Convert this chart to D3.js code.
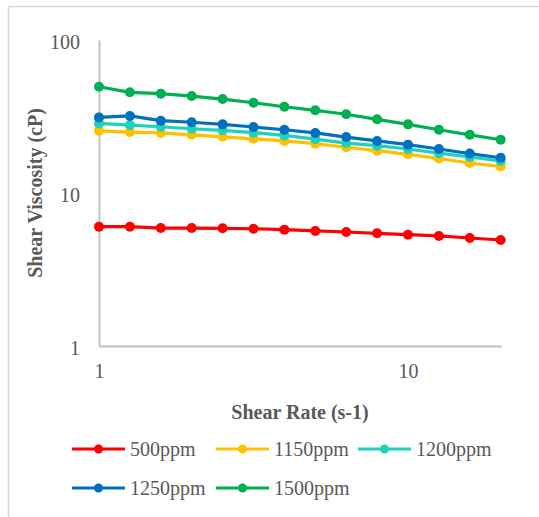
<!DOCTYPE html>
<html>
<head>
<meta charset="utf-8">
<script src="https://cdn.jsdelivr.net/npm/d3@7"></script>
<style>
  html, body { margin: 0; padding: 0; background: #fff; }
  svg { display: block; }
  text { font-family: "Liberation Serif", "Times New Roman", serif; }
</style>
</head>
<body>
<svg id="chart" width="539" height="517"></svg>
<script>
// Shear rate (s-1) at each measurement
const shearRates = [1, 1.259, 1.585, 1.995, 2.512, 3.162, 3.981, 5.012, 6.31, 7.943, 10, 12.59, 15.85, 19.95];

// Shear viscosity (cP) for each polymer concentration
const seriesNames = ["500ppm", "1150ppm", "1200ppm", "1250ppm", "1500ppm"];
const visc500  = [6.02, 6.02, 5.9, 5.9, 5.88, 5.84, 5.76, 5.65, 5.56, 5.45, 5.34, 5.24, 5.08, 4.93];
const visc1150 = [25.5, 25.0, 24.7, 24.0, 23.3, 22.6, 21.9, 21.0, 19.9, 18.9, 17.9, 16.8, 15.7, 14.9];
const visc1200 = [28.5, 27.8, 27.1, 26.3, 25.7, 24.8, 23.8, 22.5, 21.2, 20.4, 19.4, 18.2, 17.2, 16.2];
const visc1250 = [31.2, 31.9, 29.7, 29.0, 28.1, 27.0, 25.9, 24.7, 23.2, 21.9, 20.7, 19.4, 18.1, 17.0];
const visc1500 = [49.5, 45.5, 44.6, 43.0, 41.1, 38.9, 36.6, 34.7, 32.7, 30.3, 28.1, 25.9, 24.0, 22.3];
const seriesColors = ["#FF0000", "#FFC000", "#1FD0BC", "#0070C0", "#00B050"];

const yTicks = [1, 10, 100];
const xTicks = [1, 10];
const xTitle = "Shear Rate (s-1)";
const yTitle = "Shear Viscosity (cP)";

const seriesValues = [visc500, visc1150, visc1200, visc1250, visc1500];
const series = seriesNames.map((name, i) => ({
  name,
  color: seriesColors[i],
  points: shearRates.map((x, j) => ({ x, y: seriesValues[i][j] }))
}));

const svg = d3.select("#chart");

// chart frame
svg.append("line").attr("x1", 8).attr("x2", 539).attr("y1", 6.5).attr("y2", 6.5)
  .attr("stroke", "#D9D9D9").attr("stroke-width", 1.5);
svg.append("line").attr("x1", 8.5).attr("x2", 8.5).attr("y1", 6).attr("y2", 517)
  .attr("stroke", "#D9D9D9").attr("stroke-width", 1.5);

const x = d3.scaleLog().domain([1, 20]).range([99, 501]);
const y = d3.scaleLog().domain([1, 100]).range([346, 40]);

const axisColor = "#BFBFBF";
const labelColor = "#595959";

// y axis
const yAxis = svg.append("g").attr("transform", `translate(${x(1)},0)`)
  .call(d3.axisLeft(y).tickValues(yTicks).tickSize(0).tickFormat(d3.format("d")).tickPadding(19));
yAxis.select(".domain").attr("stroke", axisColor).attr("stroke-width", 1.8);
yAxis.selectAll("text").attr("fill", labelColor).attr("font-size", 20)
  .attr("font-family", "Liberation Serif, serif").attr("dy", "0.4em");

// x axis
const xAxis = svg.append("g").attr("transform", `translate(0,${y(1)})`)
  .call(d3.axisBottom(x).tickValues(xTicks).tickSize(0).tickFormat(d3.format("d")).tickPadding(18));
xAxis.select(".domain").attr("stroke", axisColor).attr("stroke-width", 1.8);
xAxis.selectAll("text").attr("fill", labelColor).attr("font-size", 20)
  .attr("font-family", "Liberation Serif, serif");

// axis titles
svg.append("text").attr("x", (x(1) + x(20)) / 2).attr("y", 419)
  .attr("text-anchor", "middle").attr("font-size", 20).attr("font-weight", "bold")
  .attr("fill", labelColor).text(xTitle);
svg.append("text").attr("transform", `translate(42,${(y(1) + y(100)) / 2}) rotate(-90)`)
  .attr("text-anchor", "middle").attr("font-size", 20).attr("font-weight", "bold")
  .attr("fill", labelColor).text(yTitle);

// series lines and markers
const line = d3.line().x(d => x(d.x)).y(d => y(d.y));
const plot = svg.append("g");
series.forEach(s => {
  plot.append("path").datum(s.points).attr("d", line)
    .attr("fill", "none").attr("stroke", s.color).attr("stroke-width", 3.2)
    .attr("stroke-linejoin", "round");
  plot.selectAll(null).data(s.points).enter().append("circle")
    .attr("cx", d => x(d.x)).attr("cy", d => y(d.y)).attr("r", 5)
    .attr("fill", s.color);
});

// legend
const legendPos = [[72, 449], [216, 449], [358, 449], [72, 488], [216, 488]];
series.forEach((s, i) => {
  const [lx, ly] = legendPos[i];
  const g = svg.append("g").attr("transform", `translate(${lx},${ly})`);
  g.append("line").attr("x1", 0).attr("x2", 53).attr("y1", 0).attr("y2", 0)
    .attr("stroke", s.color).attr("stroke-width", 3.2);
  g.append("circle").attr("cx", 26.5).attr("cy", 0).attr("r", 4.5).attr("fill", s.color);
  g.append("text").attr("x", 58).attr("y", 0).attr("dy", "0.35em")
    .attr("font-size", 20).attr("fill", labelColor).text(s.name);
});
</script>
</body>
</html>
